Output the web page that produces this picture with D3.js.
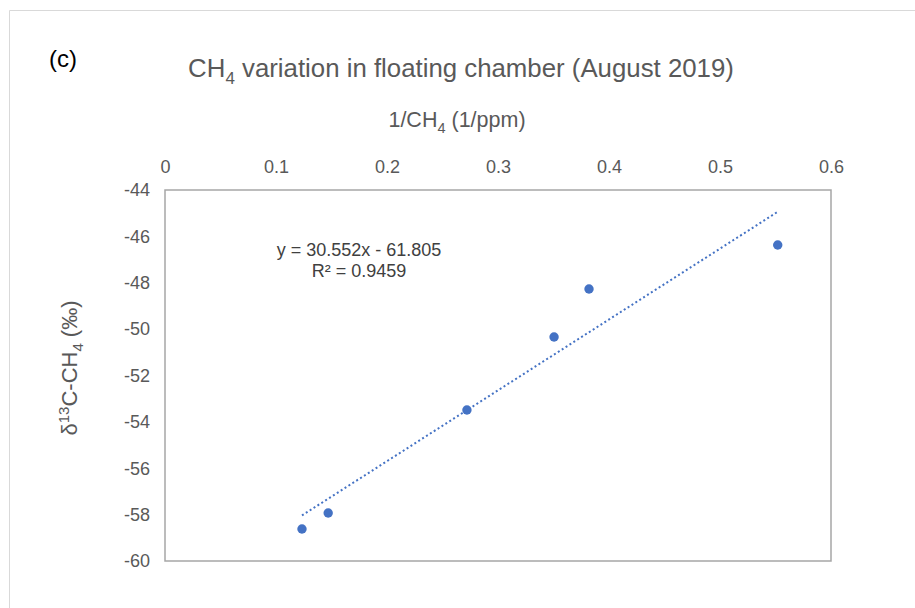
<!DOCTYPE html>
<html>
<head>
<meta charset="utf-8">
<script src="https://cdn.jsdelivr.net/npm/d3@7/dist/d3.min.js"></script>
<style>
  html, body { margin: 0; padding: 0; background: #fff; }
  svg { display: block; font-family: "Liberation Sans", Arial, sans-serif; }
</style>
</head>
<body>
<svg id="chart" width="915" height="608"></svg>
<script>
// Inverse CH4 concentration (1/ppm) and δ13C-CH4 (‰) measured in the floating chamber
const invCH4 = [0.1234, 0.147, 0.272, 0.3505, 0.382, 0.552];
const d13C = [-58.62, -57.93, -53.49, -50.34, -48.27, -46.37];
const xTicks = [0, 0.1, 0.2, 0.3, 0.4, 0.5, 0.6];
const yTicks = [-44, -46, -48, -50, -52, -54, -56, -58, -60];
const slope = 30.552;
const intercept = -61.805;
const rSquared = 0.9459;

const FONT = '"Liberation Sans", Arial, sans-serif';
const svg = d3.select("#chart");
const W = 915, H = 608;
const plot = { left: 165, top: 190, right: 831, bottom: 561 };

// Outer chart border
svg.append("path")
  .attr("d", `M9.5,${H} L9.5,10.5 L${W},10.5`)
  .attr("fill", "none")
  .attr("stroke", "#d9d9d9")
  .attr("stroke-width", 1);

const x = d3.scaleLinear().domain([0, 0.6]).range([plot.left, plot.right]);
const y = d3.scaleLinear().domain([-60, -44]).range([plot.bottom, plot.top]);

// Plot area frame
svg.append("rect")
  .attr("x", plot.left).attr("y", plot.top)
  .attr("width", plot.right - plot.left)
  .attr("height", plot.bottom - plot.top)
  .attr("fill", "none")
  .attr("stroke", "#a6a6a6")
  .attr("stroke-width", 1.5);

// Top x axis (labels only)
const xAxis = svg.append("g")
  .attr("transform", `translate(0,${plot.top - 14})`)
  .call(d3.axisTop(x).tickValues(xTicks).tickSize(0).tickFormat(d => String(d)));
xAxis.attr("font-family", FONT).attr("font-size", null);
xAxis.select(".domain").remove();
xAxis.selectAll("text")
  .attr("fill", "#595959")
  .style("font-size", "18px");

// Left y axis (labels only)
const yAxis = svg.append("g")
  .attr("transform", `translate(${plot.left - 15},0)`)
  .call(d3.axisLeft(y).tickValues(yTicks).tickSize(0).tickFormat(d => String(d)));
yAxis.attr("font-family", FONT).attr("font-size", null);
yAxis.select(".domain").remove();
yAxis.selectAll("text")
  .attr("fill", "#595959")
  .style("font-size", "18px")
  .attr("x", 0);

// Panel label
svg.append("text")
  .attr("x", 49).attr("y", 67)
  .attr("fill", "#000")
  .style("font-size", "24px")
  .text("(c)");

// Title
const title = svg.append("text")
  .attr("x", 461).attr("y", 77)
  .attr("text-anchor", "middle")
  .attr("fill", "#595959")
  .style("font-size", "25.8px");
title.append("tspan").text("CH");
title.append("tspan").attr("dy", 7).style("font-size", "17px").text("4");
title.append("tspan").attr("dy", -7).text(" variation in floating chamber (August 2019)");

// X axis title
const xTitle = svg.append("text")
  .attr("x", 457).attr("y", 127)
  .attr("text-anchor", "middle")
  .attr("fill", "#595959")
  .style("font-size", "21.5px");
xTitle.append("tspan").text("1/CH");
xTitle.append("tspan").attr("dy", 6).style("font-size", "14.5px").text("4");
xTitle.append("tspan").attr("dy", -6).text(" (1/ppm)");

// Y axis title
const yTitle = svg.append("text")
  .attr("transform", "translate(77,368) rotate(-90)")
  .attr("text-anchor", "middle")
  .attr("fill", "#595959")
  .style("font-size", "22px");
yTitle.append("tspan").text("δ");
yTitle.append("tspan").attr("dy", -8).style("font-size", "15px").text("13");
yTitle.append("tspan").attr("dy", 8).text("C-CH");
yTitle.append("tspan").attr("dy", 6).style("font-size", "15px").text("4");
yTitle.append("tspan").attr("dy", -6).text(" (‰)");

// Linear trendline over the data range
const xExt = d3.extent(invCH4);
svg.append("line")
  .attr("x1", x(xExt[0])).attr("y1", y(slope * xExt[0] + intercept))
  .attr("x2", x(xExt[1])).attr("y2", y(slope * xExt[1] + intercept))
  .attr("stroke", "#4472c4")
  .attr("stroke-width", 2)
  .attr("stroke-dasharray", "2,2.6");

// Data points
svg.append("g").selectAll("circle")
  .data(invCH4.map((v, i) => [v, d13C[i]]))
  .join("circle")
  .attr("cx", d => x(d[0]))
  .attr("cy", d => y(d[1]))
  .attr("r", 4.7)
  .attr("fill", "#4472c4");

// Regression equation
const eq = svg.append("g").attr("fill", "#404040").style("font-size", "18px");
eq.append("text")
  .attr("x", 359).attr("y", 256)
  .attr("text-anchor", "middle")
  .text(`y = ${slope}x - ${Math.abs(intercept)}`);
eq.append("text")
  .attr("x", 359).attr("y", 277)
  .attr("text-anchor", "middle")
  .text(`R² = ${rSquared}`);
</script>
</body>
</html>
